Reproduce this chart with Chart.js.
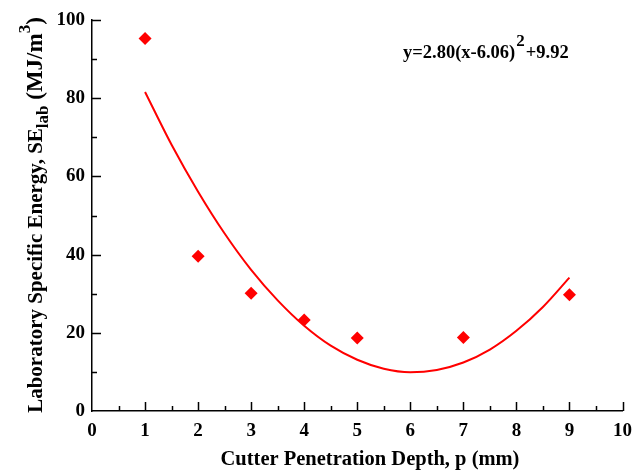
<!DOCTYPE html>
<html>
<head>
    <title>Specific Energy vs Penetration Depth</title>
    <script src="https://cdn.jsdelivr.net/npm/chart.js"></script>
    <style>
        body {
            margin: 0;
            background: white;
        }
        .chart-box {
            width: 641px;
            height: 473px;
            position: relative;
        }
    </style>
</head>
<body>
    <div class="chart-box">
        <canvas id="se-chart"></canvas>
    </div>

    <script>
        // measured points
        const depth = [1, 2, 3, 4, 5, 7, 9];
        const energy = [95.3, 39.6, 30.1, 23.3, 18.7, 18.8, 29.7];

        // fitted curve
        const fitX = [1, 1.5, 2, 2.5, 3, 3.5, 4, 4.5, 5, 5.5, 6, 6.5, 7, 7.5, 8, 8.5, 9];
        const fitY = [81.6, 68.1, 56.1, 45.4, 36.1, 28.3, 21.8, 16.7, 13.1, 10.8, 9.9, 10.5, 12.4, 15.7, 20.5, 26.6, 34.1];

        const xTicks = [0, 1, 2, 3, 4, 5, 6, 7, 8, 9, 10];
        const yTicks = [0, 20, 40, 60, 80, 100];

        const serif = '"Liberation Serif", "Times New Roman", serif';

        // draws inward ticks, axis titles and the equation
        const decorations = {
            id: 'decorations',
            afterDraw(chart) {
                const ctx = chart.ctx;
                const xs = chart.scales.x;
                const ys = chart.scales.y;
                const area = chart.chartArea;
                ctx.save();
                ctx.strokeStyle = '#000';
                ctx.lineWidth = 1.5;
                ctx.beginPath();
                for (let v = 0.5; v <= 10; v += 0.5) {
                    const px = Math.round(xs.getPixelForValue(v)) + 0.5;
                    const len = Number.isInteger(v) ? 9 : 5;
                    ctx.moveTo(px, area.bottom);
                    ctx.lineTo(px, area.bottom - len);
                }
                for (let v = 10; v <= 100; v += 10) {
                    const py = Math.round(ys.getPixelForValue(v)) + 0.5;
                    const len = v % 20 === 0 ? 9 : 5;
                    ctx.moveTo(area.left, py);
                    ctx.lineTo(area.left + len, py);
                }
                ctx.stroke();

                ctx.fillStyle = '#000';
                ctx.textBaseline = 'alphabetic';

                // x title
                ctx.font = 'bold 20.5px ' + serif;
                ctx.textAlign = 'center';
                ctx.fillText('Cutter Penetration Depth, p (mm)', 370, 465);

                // y title with sub/superscript
                const parts = [
                    { t: 'Laboratory Specific Energy, SE', size: 21, dy: 0 },
                    { t: 'lab', size: 17, dy: 6 },
                    { t: ' (MJ/m', size: 23, dy: 0 },
                    { t: '3', size: 17, dy: -12 },
                    { t: ')', size: 23, dy: 0 }
                ];
                let total = 0;
                parts.forEach(p => {
                    ctx.font = 'bold ' + p.size + 'px ' + serif;
                    p.w = ctx.measureText(p.t).width;
                    total += p.w;
                });
                ctx.translate(42, 215);
                ctx.rotate(-Math.PI / 2);
                ctx.textAlign = 'left';
                let cx = -total / 2;
                parts.forEach(p => {
                    ctx.font = 'bold ' + p.size + 'px ' + serif;
                    ctx.fillText(p.t, cx, p.dy);
                    cx += p.w;
                });
                ctx.setTransform(1, 0, 0, 1, 0, 0);

                // equation
                ctx.font = 'bold 18.5px ' + serif;
                ctx.textAlign = 'left';
                const eqA = 'y=2.80(x-6.06)';
                const wA = ctx.measureText(eqA).width;
                ctx.fillText(eqA, 403, 58);
                ctx.font = 'bold 17px ' + serif;
                ctx.fillText('2', 403 + wA + 1, 46);
                const w2 = ctx.measureText('2').width;
                ctx.font = 'bold 18.5px ' + serif;
                ctx.fillText('+9.92', 403 + wA + w2 + 2, 58);
                ctx.restore();
            }
        };

        const ctx = document.getElementById('se-chart').getContext('2d');
        new Chart(ctx, {
            type: 'scatter',
            data: {
                datasets: [{
                    label: 'Fit',
                    data: fitX.map((x, i) => ({ x: x, y: fitY[i] })),
                    showLine: true,
                    borderColor: '#ff0000',
                    borderWidth: 2,
                    pointRadius: 0,
                    cubicInterpolationMode: 'monotone',
                    fill: false,
                    order: 2
                }, {
                    label: 'Measured',
                    data: depth.map((x, i) => ({ x: x, y: energy[i] })),
                    pointStyle: 'rectRot',
                    pointRadius: 6.5,
                    pointHoverRadius: 6.5,
                    backgroundColor: '#ff0000',
                    borderColor: '#ff0000',
                    borderWidth: 0,
                    order: 1
                }]
            },
            options: {
                responsive: true,
                maintainAspectRatio: false,
                animation: false,
                events: [],
                layout: {
                    padding: { left: 0, right: 15, top: 20, bottom: 0 }
                },
                plugins: {
                    legend: { display: false },
                    tooltip: { enabled: false }
                },
                scales: {
                    x: {
                        type: 'linear',
                        min: 0,
                        max: 10,
                        afterBuildTicks: s => { s.ticks = xTicks.map(v => ({ value: v })); },
                        afterFit: s => { s.height = 62; },
                        grid: { display: true, drawOnChartArea: false, drawTicks: false },
                        border: { display: true, color: '#000', width: 1.5 },
                        ticks: {
                            color: '#000',
                            padding: 9,
                            maxRotation: 0,
                            font: { family: serif, size: 19, weight: 'bold' }
                        }
                    },
                    y: {
                        type: 'linear',
                        min: 0,
                        max: 100,
                        afterBuildTicks: s => { s.ticks = yTicks.map(v => ({ value: v })); },
                        afterFit: s => { s.width = 92; },
                        grid: { display: true, drawOnChartArea: false, drawTicks: false },
                        border: { display: true, color: '#000', width: 1.5 },
                        ticks: {
                            color: '#000',
                            padding: 7,
                            font: { family: serif, size: 19, weight: 'bold' }
                        }
                    }
                }
            },
            plugins: [decorations]
        });
    </script>
</body>
</html>
